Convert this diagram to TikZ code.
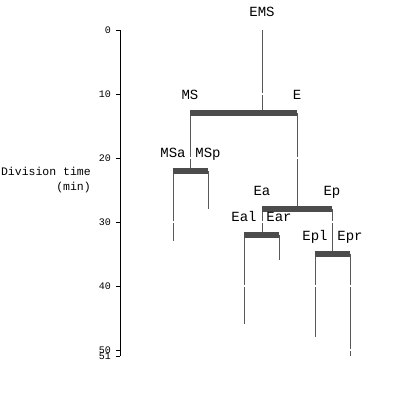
\documentclass[tikz,border=0pt]{standalone}
\usepackage{fontspec}
\setmonofont{Liberation Mono}

\begin{document}
\begin{tikzpicture}[x=1pt,y=-6.4pt,
    cellline/.style={draw=black!65,line width=1pt},
    divbar/.style={draw=black!70,line width=5.5pt},
    tickgap/.style={draw=white,line width=2.5pt},
    cellname/.style={font=\ttfamily\fontsize{14}{14}\selectfont,inner sep=0pt,text height=8pt,text depth=0pt},
    ticklabel/.style={font=\ttfamily\fontsize{10}{10}\selectfont,inner sep=0pt,text height=6.5pt,text depth=0pt,anchor=east}]
  \useasboundingbox (0,-4.6875) rectangle (400,57.8125);
  % time axis
  \coordinate (top) at (120,0);
  \coordinate (bottom) at (120,51);
  \draw (top) -- (bottom);
  \foreach \t in {0,10,20,30,40,50,51}{
    \draw (116,\t) -- (120,\t);
    \node[ticklabel] (t\t) at (111,\t) {\t};
  }
  \node[font=\ttfamily\fontsize{11.5}{15}\selectfont,align=right,anchor=east,inner sep=0pt] (ylabel) at (91,23.4) {Division time\\(min)};
  % cells: birth points
  \coordinate (EMS) at (262,0);
  \coordinate (MS) at (190,13);  \coordinate (E) at (297,13);
  \coordinate (MSa) at (173,22); \coordinate (MSp) at (208,22);
  \coordinate (Ea) at (262,28);  \coordinate (Ep) at (332,28);
  \coordinate (Eal) at (244,32); \coordinate (Ear) at (279,32);
  \coordinate (Epl) at (315,35); \coordinate (Epr) at (350,35);
  % last observed times
  \coordinate (MSa end) at (173,33); \coordinate (MSp end) at (208,28);
  \coordinate (Eal end) at (244,46); \coordinate (Ear end) at (279,36);
  \coordinate (Epl end) at (315,48); \coordinate (Epr end) at (350,51);
  \draw[cellline] (EMS) -- (EMS |- MS);
  \draw[cellline] (MS) -- (MS |- MSa);
  \draw[cellline] (E) -- (E |- Ea);
  \draw[cellline] (Ea) -- (Ea |- Eal);
  \draw[cellline] (Ep) -- (Ep |- Epl);
  \foreach \c in {MSa,MSp,Eal,Ear,Epl,Epr}
    \draw[cellline] (\c) -- (\c\space end);
  \foreach \t in {10,20,...,50}
    \draw[tickgap] (130,\t) -- (400,\t);
  % divisions
  \draw[divbar] (MS) -- (E);
  \draw[divbar] (MSa) -- (MSp);
  \draw[divbar] (Ea) -- (Ep);
  \draw[divbar] (Eal) -- (Ear);
  \draw[divbar] (Epl) -- (Epr);
  \foreach \c in {EMS,MS,E,MSa,MSp,Ea,Ep,Eal,Ear,Epl,Epr}
    \node[cellname] (\c-name) at ([yshift=17.5pt]\c) {\c};
\end{tikzpicture}
\end{document}
